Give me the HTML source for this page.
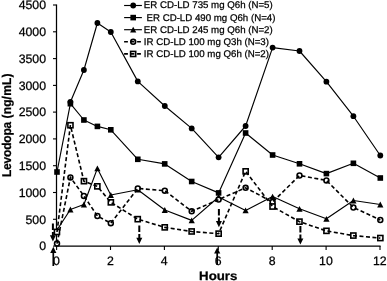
<!DOCTYPE html>
<html><head><meta charset="utf-8"><title>Levodopa concentration over time</title>
<style>
html,body{margin:0;padding:0;background:#fff}
body{width:387px;height:281px;overflow:hidden}
svg{display:block;will-change:transform;text-rendering:geometricPrecision;font-family:"Liberation Sans",Arial,sans-serif;fill:#000}
text{stroke:#000;stroke-width:.25px}
.tk{font-size:12.3px}
.lg{font-size:9.7px}
.ttl{font-size:12.8px;font-weight:bold}
.sol{fill:none;stroke:#000;stroke-width:1.15;stroke-linejoin:round}
.dsh{fill:none;stroke:#000;stroke-width:1.6;stroke-dasharray:4 2.5}
.om{fill:#fff;stroke:#000;stroke-width:1.6}
.ax{stroke:#000;stroke-width:1.25;fill:none}
.axt{stroke:#000;stroke-width:1.1}
</style></head><body>
<svg width="387" height="281" viewBox="0 0 387 281">
<rect width="387" height="281" fill="#fff"/>
<g class="axt"><line x1="53" y1="246.1" x2="56.5" y2="246.1"/><line x1="53" y1="219.3" x2="56.5" y2="219.3"/><line x1="53" y1="192.5" x2="56.5" y2="192.5"/><line x1="53" y1="165.7" x2="56.5" y2="165.7"/><line x1="53" y1="138.9" x2="56.5" y2="138.9"/><line x1="53" y1="112.1" x2="56.5" y2="112.1"/><line x1="53" y1="85.4" x2="56.5" y2="85.4"/><line x1="53" y1="58.6" x2="56.5" y2="58.6"/><line x1="53" y1="31.8" x2="56.5" y2="31.8"/><line x1="53" y1="5.0" x2="56.5" y2="5.0"/><line x1="56.6" y1="246" x2="56.6" y2="250"/><line x1="110.5" y1="246" x2="110.5" y2="250"/><line x1="164.4" y1="246" x2="164.4" y2="250"/><line x1="218.3" y1="246" x2="218.3" y2="250"/><line x1="272.2" y1="246" x2="272.2" y2="250"/><line x1="326.1" y1="246" x2="326.1" y2="250"/><line x1="380.0" y1="246" x2="380.0" y2="250"/></g>
<path class="ax" d="M56.5 4.6V246.1H380.6"/>
<g class="tk"><text x="46" y="250.4" text-anchor="end">0</text><text x="46" y="223.6" text-anchor="end">500</text><text x="46" y="196.8" text-anchor="end">1000</text><text x="46" y="170.0" text-anchor="end">1500</text><text x="46" y="143.2" text-anchor="end">2000</text><text x="46" y="116.4" text-anchor="end">2500</text><text x="46" y="89.7" text-anchor="end">3000</text><text x="46" y="62.9" text-anchor="end">3500</text><text x="46" y="36.1" text-anchor="end">4000</text><text x="46" y="9.3" text-anchor="end">4500</text><text x="56.5" y="264.9" text-anchor="middle">0</text><text x="110.3" y="264.9" text-anchor="middle">2</text><text x="164.2" y="264.9" text-anchor="middle">4</text><text x="218.1" y="264.9" text-anchor="middle">6</text><text x="272.1" y="264.9" text-anchor="middle">8</text><text x="325.9" y="264.9" text-anchor="middle">10</text><text x="379.8" y="264.9" text-anchor="middle">12</text></g>
<text class="ttl" x="199.1" y="279.5" style="font-size:12.2px" textLength="38.3" lengthAdjust="spacingAndGlyphs">Hours</text>
<text class="ttl" transform="translate(10.8 177) rotate(-90) scale(.945 1)" style="font-size:12.7px"><tspan letter-spacing="-0.22">Levodopa</tspan><tspan letter-spacing="0.18"> (ng/mL)</tspan></text>
<!-- series -->
<polyline class="sol" points="70.4,102.0 83.9,70.0 97.4,23.0 110.8,32.0 137.8,81.4 164.8,106.0 191.7,128.4 218.6,157.3 245.6,126.0 272.6,47.6 299.5,51.0 326.4,81.7 353.4,116.2 380.3,155.5"/><g><circle cx="70.4" cy="102.0" r="2.9"/><circle cx="83.9" cy="70.0" r="2.9"/><circle cx="97.4" cy="23.0" r="2.9"/><circle cx="110.8" cy="32.0" r="2.9"/><circle cx="137.8" cy="81.4" r="2.9"/><circle cx="164.8" cy="106.0" r="2.9"/><circle cx="191.7" cy="128.4" r="2.9"/><circle cx="218.6" cy="157.3" r="2.9"/><circle cx="245.6" cy="126.0" r="2.9"/><circle cx="272.6" cy="47.6" r="2.9"/><circle cx="299.5" cy="51.0" r="2.9"/><circle cx="326.4" cy="81.7" r="2.9"/><circle cx="353.4" cy="116.2" r="2.9"/><circle cx="380.3" cy="155.5" r="2.9"/></g>
<polyline class="sol" points="57.0,172.0 70.4,103.7 83.9,120.0 97.4,126.4 110.8,129.8 137.8,159.3 164.8,163.9 191.7,181.5 218.6,192.9 245.6,133.0 272.6,155.0 299.5,163.8 326.4,173.6 353.4,163.3 380.3,178.0"/><g><rect x="54.2" y="169.2" width="5.6" height="5.6"/><rect x="67.6" y="100.9" width="5.6" height="5.6"/><rect x="81.1" y="117.2" width="5.6" height="5.6"/><rect x="94.6" y="123.6" width="5.6" height="5.6"/><rect x="108.0" y="127.0" width="5.6" height="5.6"/><rect x="135.0" y="156.5" width="5.6" height="5.6"/><rect x="161.9" y="161.1" width="5.6" height="5.6"/><rect x="188.9" y="178.7" width="5.6" height="5.6"/><rect x="215.8" y="190.1" width="5.6" height="5.6"/><rect x="242.8" y="130.2" width="5.6" height="5.6"/><rect x="269.8" y="152.2" width="5.6" height="5.6"/><rect x="296.7" y="161.0" width="5.6" height="5.6"/><rect x="323.6" y="170.8" width="5.6" height="5.6"/><rect x="350.6" y="160.5" width="5.6" height="5.6"/><rect x="377.5" y="175.2" width="5.6" height="5.6"/></g>
<polyline class="sol" points="57.0,230.0 70.4,209.5 83.9,204.5 97.4,168.4 110.8,195.0 137.8,189.7 164.8,210.0 191.7,220.4 218.6,197.0 245.6,210.4 272.6,196.6 299.5,208.8 326.4,218.8 353.4,200.5 380.3,204.5"/><g><path d="M57.0 227.1L60.1 232.9H53.9Z"/><path d="M70.4 206.6L73.5 212.4H67.3Z"/><path d="M83.9 201.6L87.0 207.4H80.8Z"/><path d="M97.4 165.5L100.5 171.3H94.3Z"/><path d="M110.8 192.1L113.9 197.9H107.8Z"/><path d="M137.8 186.8L140.9 192.6H134.7Z"/><path d="M164.8 207.1L167.8 212.9H161.7Z"/><path d="M191.7 217.5L194.8 223.3H188.6Z"/><path d="M218.6 194.1L221.7 199.9H215.5Z"/><path d="M245.6 207.5L248.7 213.3H242.5Z"/><path d="M272.6 193.7L275.7 199.5H269.4Z"/><path d="M299.5 205.9L302.6 211.7H296.4Z"/><path d="M326.4 215.9L329.6 221.7H323.3Z"/><path d="M353.4 197.6L356.5 203.4H350.3Z"/><path d="M380.3 201.6L383.4 207.4H377.2Z"/></g>
<g class="om"><circle cx="57.0" cy="243.6" r="2.45"/><circle cx="70.4" cy="177.4" r="2.45"/><circle cx="83.9" cy="195.9" r="2.45"/><circle cx="97.4" cy="216.0" r="2.45"/><circle cx="110.8" cy="223.2" r="2.45"/><circle cx="137.8" cy="188.4" r="2.45"/><circle cx="164.8" cy="190.7" r="2.45"/><circle cx="191.7" cy="211.3" r="2.45"/><circle cx="218.6" cy="199.6" r="2.45"/><circle cx="245.6" cy="187.8" r="2.45"/><circle cx="272.6" cy="202.0" r="2.45"/><circle cx="299.5" cy="175.5" r="2.45"/><circle cx="326.4" cy="180.4" r="2.45"/><circle cx="353.4" cy="207.5" r="2.45"/><circle cx="380.3" cy="220.0" r="2.45"/></g><polyline class="dsh" points="57.0,243.6 70.4,177.4 83.9,195.9 97.4,216.0 110.8,223.2 137.8,188.4 164.8,190.7 191.7,211.3 218.6,199.6 245.6,187.8 272.6,202.0 299.5,175.5 326.4,180.4 353.4,207.5 380.3,220.0"/>
<g class="om"><rect x="54.4" y="229.4" width="5.1" height="5.1"/><rect x="67.9" y="122.7" width="5.1" height="5.1"/><rect x="81.4" y="178.6" width="5.1" height="5.1"/><rect x="94.8" y="183.8" width="5.1" height="5.1"/><rect x="108.3" y="199.8" width="5.1" height="5.1"/><rect x="135.2" y="216.6" width="5.1" height="5.1"/><rect x="162.2" y="224.8" width="5.1" height="5.1"/><rect x="189.1" y="228.9" width="5.1" height="5.1"/><rect x="216.1" y="231.1" width="5.1" height="5.1"/><rect x="243.1" y="168.8" width="5.1" height="5.1"/><rect x="270.0" y="204.0" width="5.1" height="5.1"/><rect x="296.9" y="219.1" width="5.1" height="5.1"/><rect x="323.9" y="228.3" width="5.1" height="5.1"/><rect x="350.8" y="233.0" width="5.1" height="5.1"/><rect x="377.8" y="235.5" width="5.1" height="5.1"/></g><polyline class="dsh" points="57.0,232.0 70.4,125.2 83.9,181.2 97.4,186.4 110.8,202.3 137.8,219.2 164.8,227.4 191.7,231.5 218.6,233.7 245.6,171.3 272.6,206.6 299.5,221.7 326.4,230.9 353.4,235.6 380.3,238.1"/>
<!-- dose arrows -->
<line x1="52.9" y1="223.5" x2="52.9" y2="236.5" stroke="#000" stroke-width="2" stroke-dasharray="6.5 2"/><path d="M49.9 235.3H55.9L52.9 241.5Z" fill="#000"/><line x1="139.3" y1="225.5" x2="139.3" y2="239" stroke="#000" stroke-width="2" stroke-dasharray="6.5 2"/><path d="M136.3 237.8H142.3L139.3 244Z" fill="#000"/><line x1="218.9" y1="208.9" x2="218.9" y2="222.2" stroke="#000" stroke-width="2" stroke-dasharray="6.5 2"/><path d="M215.9 221.0H221.9L218.9 227.2Z" fill="#000"/><line x1="300.4" y1="226" x2="300.4" y2="239.6" stroke="#000" stroke-width="2" stroke-dasharray="6.5 2"/><path d="M297.4 238.4H303.4L300.4 244.6Z" fill="#000"/>
<line x1="53.3" y1="250.8" x2="53.3" y2="266" stroke="#000" stroke-width="1.7"/><path d="M50.199999999999996 253.0H56.4L53.3 246.8Z" fill="#000"/><line x1="217.2" y1="251.4" x2="217.2" y2="265" stroke="#000" stroke-width="1.7"/><path d="M214.1 253.6H220.29999999999998L217.2 247.4Z" fill="#000"/>
<!-- legend -->
<g class="sol"><line x1="124.1" y1="5.5" x2="141.9" y2="5.5"/><line x1="124.1" y1="17.6" x2="141.9" y2="17.6"/><line x1="124.1" y1="29.7" x2="141.9" y2="29.7"/></g>
<circle cx="133.2" cy="5.5" r="2.9"/><rect x="130.4" y="14.8" width="5.6" height="5.6"/><path d="M133.2 26.8L136.3 32.6H130.1Z"/>
<g class="om"><circle cx="133.2" cy="41.8" r="2.45"/><rect x="130.6" y="51.4" width="5.1" height="5.1"/></g>
<g class="dsh" style="stroke-dasharray:3.8 2.7"><line x1="124.1" y1="41.8" x2="141.9" y2="41.8"/><line x1="124.1" y1="53.9" x2="141.9" y2="53.9"/></g>
<g class="lg"><text x="143.8" y="8.4">ER CD-LD 735 mg Q6h (N=5)</text><text x="143.8" y="20.5"> ER CD-LD 490 mg Q6h (N=4)</text><text x="143.8" y="32.6">ER CD-LD 245 mg Q6h (N=2)</text><text x="143.8" y="44.7">IR CD-LD 100 mg Q3h (N=3)</text><text x="143.8" y="56.8">IR CD-LD 100 mg Q6h (N=2)</text></g>
</svg>
</body></html>
